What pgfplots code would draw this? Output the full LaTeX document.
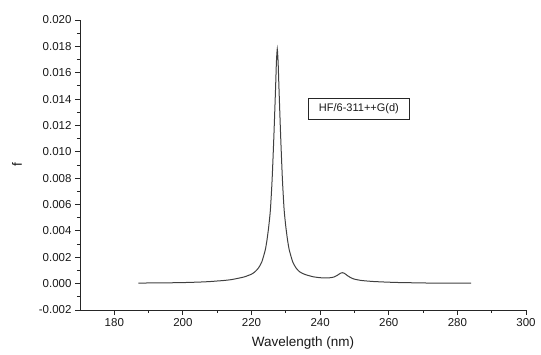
\documentclass[border=0pt]{standalone}
\usepackage{pgfplots}
\pgfplotsset{compat=1.18}
\usepackage{fontspec}
\setmainfont{Liberation Sans}
\definecolor{curve}{HTML}{404040}
\begin{document}
\begin{tikzpicture}
\begin{axis}[
  scale only axis,
  width=446pt, height=290pt,
  xmin=170, xmax=300, ymin=-0.002, ymax=0.020,
  axis lines=left,
  axis line style={-, line width=0.9pt, black!85},
  tick style={line width=0.9pt, black!85},
  tick align=outside,
  major tick length=5pt, minor tick length=3pt,
  xtick={180,200,...,300},
  minor xtick={190,210,...,290},
  ytick={-0.002,0,0.002,0.004,0.006,0.008,0.010,0.012,0.014,0.016,0.018,0.020},
  minor ytick={-0.001,0.001,0.003,0.005,0.007,0.009,0.011,0.013,0.015,0.017,0.019},
  scaled y ticks=false,
  yticklabel style={/pgf/number format/.cd, fixed, fixed zerofill, precision=3, assume math mode=true},
  xticklabel style={/pgf/number format/assume math mode=true},
  ticklabel style={font=\fontsize{11.5}{13}\selectfont, text=black!90},
  xlabel={Wavelength (nm)},
  ylabel={f},
  label style={font=\fontsize{13.5}{15}\selectfont, text=black!90},
  xlabel style={yshift=-3pt},
  ylabel style={yshift=10pt},
  clip=false,
]
\addplot[curve, line width=1pt, smooth, tension=0.35] coordinates {
(187,0.00004) (190,0.00005) (195,0.00006) (200,0.00008) (205,0.00012)
(208,0.00016) (210,0.00020) (212,0.00024) (214,0.00030) (216,0.00040)
(218,0.00052) (220,0.00072) (221,0.00090) (222,0.00118) (223,0.00165)
(224,0.00255) (224.5,0.00330) (225,0.00430) (225.5,0.00560) (226,0.00790)
(226.5,0.01110) (227,0.01480) (227.25,0.01680) (227.5,0.01780) (227.75,0.01680)
(228,0.01480) (228.5,0.01110)
(229,0.00790) (229.5,0.00560) (230,0.00430) (230.5,0.00330) (231,0.00255)
(232,0.00165) (233,0.00118) (234,0.00090) (235,0.00076) (236,0.00066) (238,0.00052)
(240,0.00045) (242,0.00043) (243,0.00045) (244,0.00050) (245,0.00063)
(245.5,0.00072) (246,0.00080) (246.5,0.00083) (247,0.00079) (247.5,0.00070)
(248,0.00060) (249,0.00044) (250,0.00034) (252,0.00024) (255,0.00017)
(258,0.00013) (262,0.00009) (266,0.00007) (270,0.00005) (275,0.00004)
(280,0.00003) (284,0.00003)
};
\node[draw=black!85, line width=0.8pt, inner xsep=11pt, inner ysep=5pt,
      font=\fontsize{11}{13}\selectfont, text=black!90]
  at (axis cs:251.3,0.01325) {HF/6-311++G(d)};
\end{axis}
\path (current axis.south west) ++(-80pt,-45pt) coordinate (bl);
\path (current axis.north east) ++(15pt,20pt) coordinate (tr);
\path (bl) rectangle (tr);
\end{tikzpicture}
\end{document}
